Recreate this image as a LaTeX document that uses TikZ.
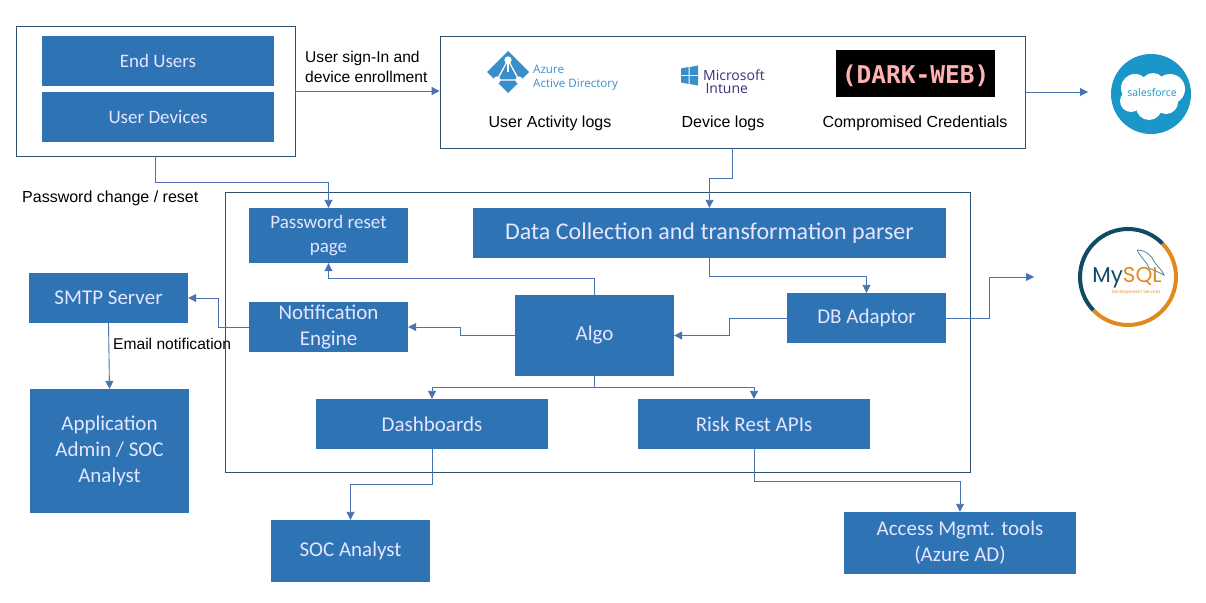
\documentclass[tikz,border=0pt]{standalone}
\usepackage{fontspec}
\setmainfont{Carlito}
\newfontfamily\labelfont{Liberation Sans}
\newfontfamily\darkfont{DejaVu Sans Mono}
\newfontfamily\logofont{Open Sans}
\newfontfamily\mysqlfont{Poppins}
\usetikzlibrary{arrows.meta}

\definecolor{boxblue}{HTML}{2E74B5}
\definecolor{edgeblue}{HTML}{2F5272}
\definecolor{linkblue}{HTML}{4A72B0}
\definecolor{azureblue}{HTML}{3A8FCB}
\definecolor{sfblue}{HTML}{1B96C8}
\definecolor{mysqlteal}{HTML}{0F4C63}
\definecolor{mysqlorange}{HTML}{E08A1E}

\tikzstyle{block} = [fill=boxblue,text=white!90!blue,inner sep=0pt,align=center,font=\fontsize{21}{26}\selectfont]
\tikzstyle{smallblock} = [block,font=\fontsize{19}{24}\selectfont]
\tikzstyle{frame} = [draw=edgeblue,line width=0.85pt,fill=none,inner sep=0pt]
\tikzstyle{caption} = [inner sep=0pt,align=left,font=\labelfont\fontsize{16}{19.5}\selectfont]
\tikzstyle{link} = [draw=linkblue,line width=0.9pt,-{Triangle[length=8pt,width=8pt]}]

\begin{document}
\begin{tikzpicture}[x=1pt,y=-1pt]
	\useasboundingbox (0,0) rectangle (1206,602);

	\node[frame,minimum width=279pt,minimum height=130pt] (users) at (155.5,91) {};
	\node[frame,minimum width=585pt,minimum height=112pt] (sources) at (732.5,92) {};
	\node[frame,minimum width=745pt,minimum height=280pt] (core) at (597.5,332) {};

	\node[smallblock,minimum width=232pt,minimum height=50pt] (endusers) at (158,61) {End Users};
	\node[smallblock,minimum width=232pt,minimum height=50pt] (devices) at (158,117) {User Devices};
	\node[smallblock,minimum width=159pt,minimum height=55pt] (pwd) at (328.5,235.5) {Password reset\\page};
	\node[block,minimum width=473pt,minimum height=50pt,font=\fontsize{24}{28}\selectfont] (data) at (709.5,233) {Data Collection and transformation parser};
	\node[block,minimum width=159pt,minimum height=50pt] (smtp) at (108.5,298) {SMTP Server};
	\node[block,minimum width=159pt,minimum height=50pt] (notif) at (328.5,327) {Notification\\Engine};
	\node[block,minimum width=159pt,minimum height=81pt] (algo) at (594.5,335.5) {Algo};
	\node[block,minimum width=159pt,minimum height=50pt] (db) at (866.5,318) {DB Adaptor};
	\node[block,minimum width=232pt,minimum height=50pt] (dash) at (432,424) {Dashboards};
	\node[block,minimum width=232pt,minimum height=50pt] (risk) at (754,424) {Risk Rest APIs};
	\node[block,minimum width=159pt,minimum height=124pt] (admin) at (109.5,451) {Application\\Admin / SOC\\Analyst};
	\node[block,minimum width=159pt,minimum height=62pt] (soc) at (350.5,551) {SOC Analyst};
	\node[block,minimum width=232pt,minimum height=62pt] (access) at (960,543) {Access Mgmt. tools\\(Azure AD)};

	\node[caption,anchor=west,font=\labelfont\fontsize{15.6}{19.5}\selectfont] (signin) at (305,67) {User sign-In and\\device enrollment};
	\node[caption,anchor=west] (pwdchange) at (22,198) {Password change / reset};
	\node[caption,anchor=west,font=\labelfont\fontsize{15.6}{19.5}\selectfont] (email) at (113,343.5) {Email notification};
	\node[caption] (activity) at (550,123) {User Activity logs};
	\node[caption] (devlogs) at (723,123) {Device logs};
	\node[caption] (compromised) at (915,123) {Compromised Credentials};

	\coordinate (sfout) at (1088,92);
	\coordinate (mysqlout) at (1034,277);

	\draw[link] (users.east) -- (users.east -| sources.west);
	\draw[link] (users.south) -- ++(0,26) -| (pwd.north);
	\draw[link] (sources.south) -- ++(0,30) -| (data.north);
	\draw[link] (sources.east) -- (sfout);
	\draw[link] (data.south) -- ++(0,18) -| (db.north);
	\draw[link] (db.west) -- ++(-57,0) |- (algo.east);
	\draw[link] (db.east) -- ++(43,0) |- (mysqlout);
	\draw[link] (algo.north) -- ++(0,-16) -| (pwd.south);
	\draw[link] (algo.west) -- ++(-54,0) |- (notif.east);
	\draw[link] (notif.west) -- ++(-30,0) |- (smtp.east);
	\draw[link] (smtp.south) -- (admin.north);
	\draw[link] (algo.south) -- ++(0,11) -| (dash.north);
	\draw[link] (algo.south) -- ++(0,11) -| (risk.north);
	\draw[link] (dash.south) -- ++(0,35) -| (soc.north);
	\draw[link] (risk.south) -- ++(0,32) -| (access.north);

	% azure logo
	\fill[azureblue] (508,51) -- (529,72) -- (508,93) -- (487,72) -- cycle;
	\draw[white,line width=1.3pt] (508,60) -- (497,80) -- (519,80) -- cycle;
	\draw[white,line width=1.3pt] (508,60) -- (508,72);
	\fill[white] (508,60) circle (3.6);
	\fill[white] (497,80) circle (3.6);
	\fill[white] (519,80) circle (3.6);
	\node[inner sep=0pt,align=left,text=azureblue,anchor=west,font=\logofont\fontsize{11.6}{13.5}\selectfont] (azure) at (533,77.5) {Azure\\Active Directory};

	% intune logo
	\fill[azureblue] (681,68.5) -- (688.5,67) -- (688.5,75) -- (681,75) -- cycle;
	\fill[azureblue] (689.5,67) -- (698,65.5) -- (698,75) -- (689.5,75) -- cycle;
	\fill[azureblue] (681,76) -- (688.5,76) -- (688.5,84) -- (681,82.5) -- cycle;
	\fill[azureblue] (689.5,76) -- (698,76) -- (698,85.5) -- (689.5,84) -- cycle;
	\node[inner sep=0pt,align=left,text=black!65!blue!80,anchor=west,font=\logofont\fontsize{14}{13.5}\selectfont] (intune) at (703,81.5) {Microsoft\\\,Intune};

	% dark web logo
	\fill[black] (836,50) rectangle (995,97);
	\node[inner sep=0pt,text=red!30!white,font=\darkfont\bfseries\fontsize{24.5}{26}\selectfont] (darkweb) at (915.5,76) {(DARK-WEB)};

	% salesforce logo
	\fill[sfblue] (1151,94) circle (40);
	\fill[white] (1135,88) circle (14);
	\fill[white] (1153,85) circle (12);
	\fill[white] (1170,89) circle (15);
	\fill[white] (1166,102) circle (12);
	\fill[white] (1149,107) circle (13);
	\fill[white] (1131,101) circle (11);
	\node[inner sep=0pt,text=sfblue,font=\logofont\fontsize{10.5}{12}\selectfont] (salesforce) at (1152,93) {salesforce};

	% mysql logo
	\draw[mysqlteal,line width=4pt] (1128,277) ++(-44:48) arc[start angle=-44,end angle=-224,radius=48];
	\draw[mysqlorange,line width=4pt] (1128,277) ++(136:48) arc[start angle=136,end angle=-44,radius=48];
	\draw[mysqlteal!70,line width=0.8pt] (1137,250) .. controls (1146,250) and (1152,256) .. (1155,263) .. controls (1158,267) and (1162,270) .. (1164,275) .. controls (1158,272) and (1153,270) .. (1149,268) .. controls (1147,262) and (1141,258) .. (1137,250);
	\node[inner sep=0pt,font=\mysqlfont\fontsize{21.5}{22}\selectfont] (mysql) at (1127,278) {\textcolor{mysqlteal}{My}\textcolor{mysqlorange}{SQL}};
	\node[inner sep=0pt,text=mysqlorange,font=\logofont\fontsize{4.5}{5}\selectfont] (mysqlsub) at (1136,292) {Developement Services};
\end{tikzpicture}
\end{document}
